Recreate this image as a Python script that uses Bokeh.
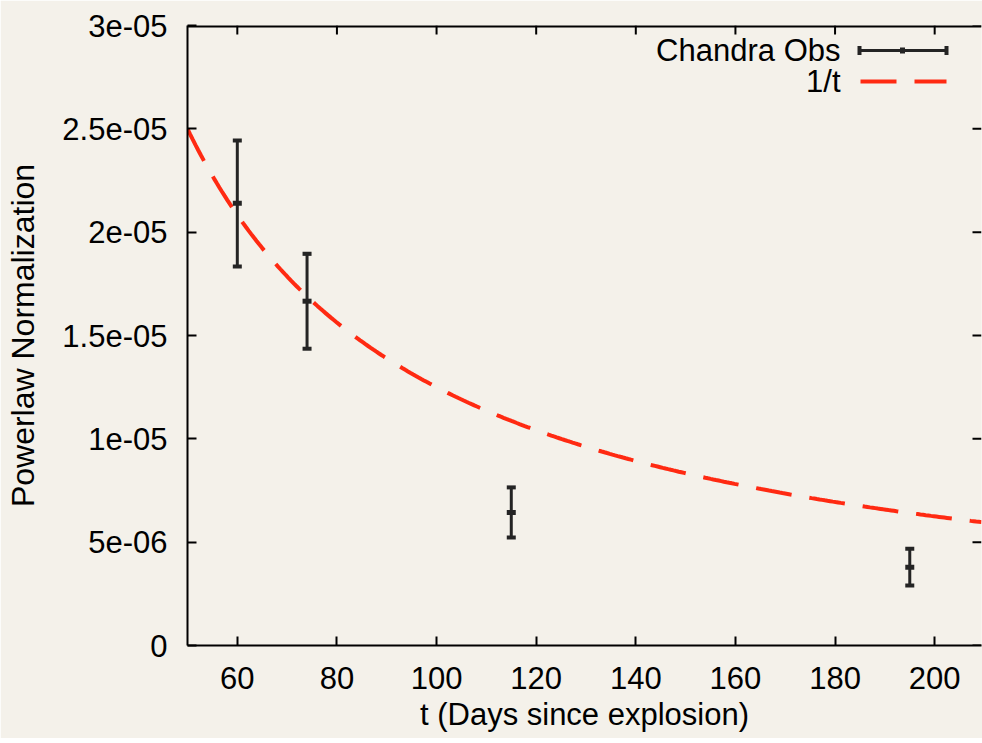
import numpy as np
from bokeh.plotting import figure
from bokeh.models import (Whisker, TeeHead, ColumnDataSource, FixedTicker, Label, Arrow,
                          Range1d)
from bokeh.embed import file_html
from bokeh.resources import INLINE

# ---- data ----
t_obs = [60, 74, 115, 195]
norm = [2.14e-5, 1.666e-5, 6.44e-6, 3.79e-6]
norm_lo = [1.834e-5, 1.436e-5, 5.23e-6, 2.90e-6]
norm_hi = [2.443e-5, 1.895e-5, 7.65e-6, 4.68e-6]
model_amp = 1.25e-3          # amplitude of the 1/t curve (2.5e-05 at t=50)
x_ticks = [60, 80, 100, 120, 140, 160, 180, 200]
y_ticks = [0, 5e-6, 1e-5, 1.5e-5, 2e-5, 2.5e-5, 3e-5]
y_tick_labels = ["0", "5e-06", "1e-05", "1.5e-05", "2e-05", "2.5e-05", "3e-05"]
legend_labels = ["Chandra Obs", "1/t"]

BG = "#f4f1ea"
EB = "#242424"
RED = "#ff2a12"
FONT = "Liberation Sans"
FS = "31px"

# layout geometry (pixels)
W, H = 982, 738
LEFT, TOP, BOTTOM, RIGHT = 187, 25, 93, 1
X0, X1 = 50, 209.4
Y0, Y1 = 0, 3e-5
FW, FH = W - LEFT - RIGHT, H - TOP - BOTTOM


def dx(px):   # pixel distance -> data distance (x)
    return px * (X1 - X0) / FW


def dy(px):   # pixel distance -> data distance (y)
    return px * (Y1 - Y0) / FH


def sx(px):   # canvas x pixel -> data x
    return X0 + dx(px - LEFT)


def sy(py):   # canvas y pixel (from top) -> data y
    return Y0 + dy(H - BOTTOM - py)


p = figure(width=W, height=H, x_range=Range1d(X0, X1), y_range=Range1d(Y0, Y1),
           output_backend="svg", toolbar_location=None,
           min_border_left=LEFT, min_border_right=RIGHT, min_border_top=TOP,
           min_border_bottom=BOTTOM,
           background_fill_color=BG, border_fill_color=BG, outline_line_color=None)
p.grid.visible = False

xt = FixedTicker(ticks=x_ticks)
yt = FixedTicker(ticks=y_ticks)
p.xaxis.ticker = xt
p.yaxis.ticker = yt
p.yaxis.major_label_overrides = {v: s for v, s in zip(y_ticks, y_tick_labels)}

for ax in (p.xaxis[0], p.yaxis[0]):
    ax.axis_line_color = "black"
    ax.axis_line_width = 2
    ax.major_tick_line_color = "black"
    ax.major_tick_line_width = 2
    ax.major_tick_in = 9
    ax.major_tick_out = 0
    ax.minor_tick_line_color = None
    ax.major_label_text_font = FONT
    ax.major_label_text_font_size = FS
    ax.major_label_text_color = "black"
    ax.axis_label_text_font = FONT
    ax.axis_label_text_font_size = FS
    ax.axis_label_text_font_style = "normal"
    ax.axis_label_text_color = "black"

p.xaxis.axis_label = "t (Days since explosion)"
p.yaxis.axis_label = "Powerlaw Normalization"
p.yaxis.axis_label_text_font_size = "32px"
p.xaxis.major_label_standoff = 21
p.xaxis.axis_label_standoff = 5
p.yaxis.major_label_standoff = 20
p.yaxis.axis_label_standoff = 18

# mirror border on top and inward ticks on top / right
p.segment(x0=[X0], y0=[Y1], x1=[X1], y1=[Y1], line_color="black", line_width=4)
p.segment(x0=x_ticks, y0=[Y1] * len(x_ticks), x1=x_ticks, y1=[Y1 - dy(9)] * len(x_ticks),
          line_color="black", line_width=2)
p.segment(x0=[X1] * len(y_ticks), y0=y_ticks, x1=[X1 - dx(9)] * len(y_ticks), y1=y_ticks,
          line_color="black", line_width=2)

# 1/t model
tt = np.linspace(X0, X1, 300)
p.line(tt, model_amp / tt, line_color=RED, line_width=4, line_dash="36 18")

# error bars
src = ColumnDataSource(dict(t=t_obs, n=norm, lo=norm_lo, hi=norm_hi))
w = Whisker(base="t", lower="lo", upper="hi", source=src, dimension="height",
            line_color=EB, line_width=3,
            lower_head=TeeHead(size=9, line_color=EB, line_width=4),
            upper_head=TeeHead(size=9, line_color=EB, line_width=4))
p.add_layout(w)
p.scatter("t", "n", source=src, marker="dash", size=9, line_color=EB, line_width=5)

# legend (gnuplot style: label left, sample right)
rows_y = [sy(50), sy(81)]
for lab, yy in zip(legend_labels, rows_y):
    p.add_layout(Label(x=sx(840), y=yy, text=lab,
                       text_font=FONT, text_font_size=FS, text_align="right",
                       text_baseline="middle", text_color="black"))
p.add_layout(Arrow(x_start=sx(859), y_start=rows_y[0], x_end=sx(946), y_end=rows_y[0],
                   start=TeeHead(size=9, line_color=EB, line_width=4),
                   end=TeeHead(size=9, line_color=EB, line_width=4),
                   line_color=EB, line_width=3))
p.add_layout(Arrow(x_start=sx(902), y_start=rows_y[0] - dy(3), x_end=sx(902),
                   y_end=rows_y[0] + dy(3), end=None, line_color=EB, line_width=5))
p.add_layout(Arrow(x_start=sx(860), y_start=rows_y[1], x_end=sx(946), y_end=rows_y[1],
                   end=None, line_color=RED, line_width=4, line_dash="36 18"))

open("out.html", "w").write(file_html(p, INLINE))
